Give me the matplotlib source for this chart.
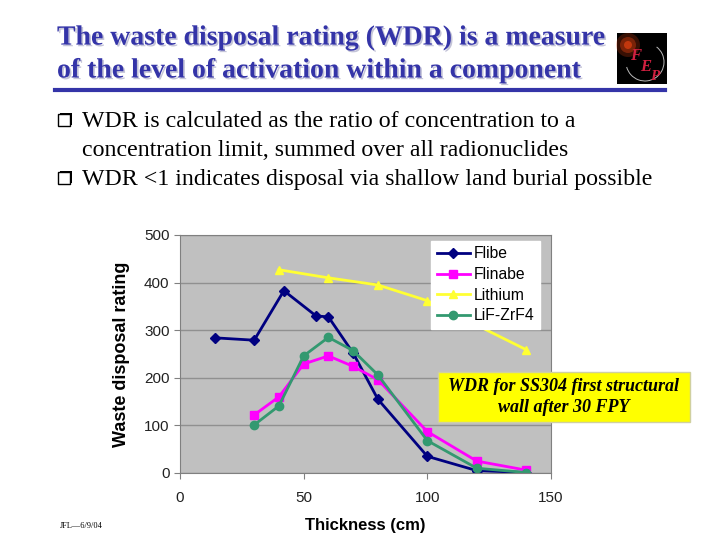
import numpy as np
import matplotlib.pyplot as plt
import matplotlib.patheffects as pe
from matplotlib.patches import Rectangle, Arc, Ellipse

# data
flibe_x = [14, 30, 42, 55, 60, 70, 80, 100, 120, 140]
flibe_y = [284, 279, 383, 330, 328, 252, 155, 35, 5, 1]
flinabe_x = [30, 40, 50, 60, 70, 80, 100, 120, 140]
flinabe_y = [122, 160, 229, 246, 224, 196, 87, 25, 6]
lithium_x = [40, 60, 80, 100, 140]
lithium_y = [427, 410, 395, 362, 259]
lifzr_x = [30, 40, 50, 60, 70, 80, 100, 120, 140]
lifzr_y = [101, 141, 246, 285, 257, 206, 68, 10, 1]

x_ticks = [0, 50, 100, 150]
y_ticks = [0, 100, 200, 300, 400, 500]

title_lines = ['The waste disposal rating (WDR) is a measure',
               'of the level of activation within a component']
bullet_lines = ['WDR is calculated as the ratio of concentration to a',
                'concentration limit, summed over all radionuclides',
                'WDR <1 indicates disposal via shallow land burial possible']
bullet_rows = [122, 150, 179]
bullet_marks = [119, 177]

fig = plt.figure(figsize=(7.2, 5.4), dpi=100)
fig.patch.set_facecolor('white')
W, H = 720, 540

def fx(px):
    return px / W

def fy(py):
    return 1 - py / H

# slide title with a soft shadow
blue = '#3434a8'
for i, line in enumerate(title_lines):
    t = fig.text(fx(57), fy(38 + 33 * i), line, fontsize=20, fontweight='bold',
                 family='Liberation Serif', color=blue, va='center')
    t.set_path_effects([pe.withSimplePatchShadow(offset=(1.2, -1.2), shadow_rgbFace='#c4c4d8', alpha=1)])
fig.add_artist(plt.Line2D([fx(55), fx(665)], [fy(90)] * 2, color=blue, lw=3))

# logo box
fig.add_artist(Rectangle((fx(617), fy(84)), 50 / W, 51 / H,
                         transform=fig.transFigure, facecolor='black'))
for r, a in [(12, 0.25), (8, 0.4), (4, 0.7)]:
    fig.add_artist(Ellipse((fx(628), fy(45)), 2 * r / W, 2 * r / H, transform=fig.transFigure,
                           facecolor='#e04010', alpha=a, lw=0))
fig.add_artist(Arc((fx(645), fy(62)), 38 / W, 38 / H, theta1=200, theta2=60,
                   transform=fig.transFigure, color='#bbbbbb', lw=0.7))
fig.text(fx(636), fy(56), 'F', fontsize=12, fontstyle='italic', fontweight='bold',
         family='Liberation Serif', color='#d02040', ha='center', va='center')
fig.text(fx(646), fy(67), 'E', fontsize=12, fontstyle='italic', fontweight='bold',
         family='Liberation Serif', color='#d02040', ha='center', va='center')
fig.text(fx(655), fy(76), 'P', fontsize=11, fontstyle='italic', fontweight='bold',
         family='Liberation Serif', color='#d02040', ha='center', va='center')

# bullets
for y in bullet_marks:
    fig.add_artist(Rectangle((fx(60), fy(y + 6)), 12 / W, 12 / H,
                             transform=fig.transFigure, facecolor='black'))
    fig.add_artist(Rectangle((fx(58), fy(y + 7)), 12 / W, 12 / H,
                             transform=fig.transFigure, facecolor='white',
                             edgecolor='black', lw=1))
for line, y in zip(bullet_lines, bullet_rows):
    fig.text(fx(82), fy(y), line, fontsize=17.2, family='Liberation Serif',
             va='center')

ax = fig.add_axes([fx(180), 67 / H, 371 / W, 238 / H])
ax.set_facecolor('#c0c0c0')
ax.plot(flibe_x, flibe_y, color='#000080', marker='D', ms=5, lw=2, label='Flibe')
ax.plot(flinabe_x, flinabe_y, color='#ff00ff', marker='s', ms=6, lw=2, label='Flinabe')
ax.plot(lithium_x, lithium_y, color='#ffff33', marker='^', ms=6, lw=2, label='Lithium')
ax.plot(lifzr_x, lifzr_y, color='#339970', marker='o', ms=6, lw=2, label='LiF-ZrF4')

ax.set_xlim(0, 150)
ax.set_ylim(0, 500)
ax.set_xticks(x_ticks)
ax.set_yticks(y_ticks)
ax.yaxis.grid(True, color='#909090', lw=1)
ax.set_axisbelow(True)
for s in ax.spines.values():
    s.set_color('#808080')
ax.tick_params(labelsize=11, color='#808080', length=4, direction='out', labelcolor='#222222')
ax.tick_params(axis='x', pad=9)
for lbl in ax.get_xticklabels() + ax.get_yticklabels():
    lbl.set_family('Liberation Sans')
ax.set_xlabel('Thickness (cm)', fontsize=12, fontweight='bold', family='Liberation Sans', labelpad=9)
ax.set_ylabel('Waste disposal rating', fontsize=13, fontweight='bold', family='Liberation Sans', labelpad=10)

leg = ax.legend(loc='upper right', bbox_to_anchor=(0.97, 0.975),
                prop={'family': 'Liberation Sans', 'size': 11.3}, fancybox=False,
                framealpha=1, edgecolor='white', handlelength=2.1,
                borderpad=0.35, labelspacing=0.36, handletextpad=0.25, borderaxespad=0)

# yellow note box
fig.add_artist(Rectangle((fx(438), fy(422)), 252 / W, 50 / H,
                         transform=fig.transFigure, facecolor='#ffff00',
                         edgecolor='#d0d0a0', lw=1))
fig.text(fx(564), fy(397), 'WDR for SS304 first structural\nwall after 30 FPY',
         fontsize=13, fontweight='bold', fontstyle='italic', family='Liberation Serif',
         ha='center', va='center', linespacing=1.35)

fig.text(fx(60), fy(526), 'JFL—6/9/04', fontsize=6, family='Liberation Serif', va='center')

fig.savefig('out.png', dpi=100)
